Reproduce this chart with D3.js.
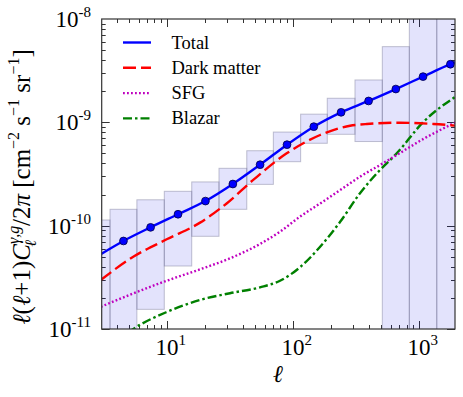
<!DOCTYPE html>
<html>
<head>
<meta charset="utf-8">
<script src="https://cdn.jsdelivr.net/npm/d3@7"></script>
<style>
  body { margin: 0; background: #fff; }
  text { fill: #000; }
</style>
</head>
<body>
<div id="chart"></div>
<script>
// Binned measurement (boxes + points)
var binEdges  = [2.15, 3.55, 5.8, 9.57, 15.8, 26, 43.2, 70.2, 115.6, 188, 312, 514, 842, 1390, 2290];
var binCentre = [2.76, 4.54, 7.45, 12.3, 20.3, 33.5, 55.1, 90.1, 147, 242, 400, 658, 1082, 1784];
var boxLow    = [1e-12, 1e-12, 1.55e-11, 4.07e-11, 7.89e-11, 1.44e-10, 2.51e-10, 4.16e-10, 6.27e-10, 7.66e-10, 6.52e-10, 1e-12, 1e-12, 1e-12];
var boxHigh   = [1.135e-10, 1.44e-10, 1.78e-10, 2.15e-10, 2.65e-10, 3.59e-10, 5.31e-10, 8.05e-10, 1.20e-9, 1.71e-9, 2.57e-9, 5.40e-9, 1e-7, 1e-7];
var binTotal  = [4.9e-11, 7.11e-11, 9.63e-11, 1.29e-10, 1.73e-10, 2.53e-10, 3.89e-10, 6.08e-10, 9.08e-10, 1.25e-9, 1.61e-9, 2.10e-9, 2.77e-9, 3.65e-9];

// Model curves
var totalEll = [3, 4.54, 7.45, 12.3, 20.3, 33.5, 55.1, 90.1, 147, 242, 400, 658, 1082, 1784, 2000];
var totalVal = [5.3e-11, 7.11e-11, 9.63e-11, 1.29e-10, 1.73e-10, 2.53e-10, 3.89e-10, 6.08e-10, 9.08e-10, 1.25e-9, 1.61e-9, 2.10e-9, 2.77e-9, 3.65e-9, 3.86e-9];

var dmEll = [3, 5.43, 10, 18.4, 29.9, 48.6, 89.6, 165, 285, 387, 711, 1306, 2000];
var dmVal = [2.98e-11, 5.0e-11, 7.38e-11, 1.07e-10, 1.64e-10, 2.77e-10, 5.01e-10, 7.54e-10, 9.27e-10, 9.64e-10, 9.91e-10, 9.64e-10, 9.27e-10];

var sfgEll = [3, 5.43, 10, 18.4, 31.8, 55, 79.3, 114, 165, 238, 342, 493, 669, 1122, 2000];
var sfgVal = [1.64e-11, 2.21e-11, 2.93e-11, 3.78e-11, 4.83e-11, 6.65e-11, 8.75e-11, 1.22e-10, 1.64e-10, 2.21e-10, 2.98e-10, 3.86e-10, 4.83e-10, 7.05e-10, 1.01e-9];

var blzEll = [3, 5.27, 10, 18.4, 31.8, 55, 79.3, 114, 165, 238, 342, 493, 669, 1089, 2000];
var blzVal = [5.6e-12, 9.78e-12, 1.46e-11, 1.91e-11, 2.22e-11, 2.53e-11, 2.93e-11, 3.95e-11, 6.25e-11, 1.09e-10, 2.06e-10, 3.46e-10, 5.01e-10, 1.01e-9, 1.80e-9];

var legendNames = ["Total", "Dark matter", "SFG", "Blazar"];
var yTicks = [1e-11, 1e-10, 1e-9, 1e-8];
var xTicks = [10, 100, 1000];

var width = 463, height = 397;
var pLeft = 101.7, pRight = 455, pTop = 19, pBottom = 329;

var svg = d3.select("#chart").append("svg")
  .attr("width", width)
  .attr("height", height);

var x = d3.scaleLog().domain([3.05, 1940]).range([pLeft, pRight]);
var y = d3.scaleLog().domain([1e-11, 1e-8]).range([pBottom, pTop]);

svg.append("clipPath").attr("id", "plot-clip")
  .append("rect")
  .attr("x", pLeft).attr("y", pTop)
  .attr("width", pRight - pLeft).attr("height", pBottom - pTop);

// minor + major ticks, all four sides, pointing inward
var tickCol = "#333";
var ticks = svg.append("g").attr("stroke", tickCol).attr("stroke-width", 1);
var ymin = [];
for (var e = -11; e < -8; e++) for (var m = 1; m < 10; m++) ymin.push(m * Math.pow(10, e));
ymin.forEach(function(v) {
  var len = (Math.abs(Math.log10(v) - Math.round(Math.log10(v))) < 1e-9) ? 8 : 4;
  var yy = Math.round(y(v)) + 0.5;
  ticks.append("line").attr("x1", pLeft).attr("x2", pLeft + len).attr("y1", yy).attr("y2", yy);
  ticks.append("line").attr("x1", pRight).attr("x2", pRight - len).attr("y1", yy).attr("y2", yy);
});
var xmin = [];
for (var e2 = 0; e2 < 4; e2++) for (var m2 = 1; m2 < 10; m2++) {
  var v2 = m2 * Math.pow(10, e2);
  if (v2 >= 3.05 && v2 <= 1940) xmin.push(v2);
}
xmin.forEach(function(v) {
  var len = (Math.abs(Math.log10(v) - Math.round(Math.log10(v))) < 1e-9) ? 8 : 4;
  var xx = Math.round(x(v)) + 0.5;
  ticks.append("line").attr("x1", xx).attr("x2", xx).attr("y1", pBottom).attr("y2", pBottom - len);
  ticks.append("line").attr("x1", xx).attr("x2", xx).attr("y1", pTop).attr("y2", pTop + len);
});

var plot = svg.append("g").attr("clip-path", "url(#plot-clip)");

// bins
plot.selectAll(".bin")
  .data(binCentre)
  .enter()
  .append("rect")
  .attr("class", "bin")
  .attr("x", function(d, i) { return x(binEdges[i]); })
  .attr("width", function(d, i) { return x(binEdges[i + 1]) - x(binEdges[i]); })
  .attr("y", function(d, i) { return y(boxHigh[i]); })
  .attr("height", function(d, i) { return y(boxLow[i]) - y(boxHigh[i]); })
  .attr("fill", "rgba(0,0,230,0.11)")
  .attr("stroke", "rgba(120,120,150,0.45)")
  .attr("stroke-width", 1);

var line = d3.line()
  .x(function(d) { return x(d[0]); })
  .y(function(d) { return y(d[1]); })
  .curve(d3.curveMonotoneX);

function zip(a, b) { return a.map(function(v, i) { return [v, b[i]]; }); }

var series = [
  { name: legendNames[0], ell: totalEll, val: totalVal, color: "#0000ff", dash: null },
  { name: legendNames[1], ell: dmEll, val: dmVal, color: "#ff0000", dash: "13,5" },
  { name: legendNames[2], ell: sfgEll, val: sfgVal, color: "#bf00bf", dash: "1.8,2.2" },
  { name: legendNames[3], ell: blzEll, val: blzVal, color: "#008000", dash: "9,3,2.5,3" }
];

series.slice().reverse().forEach(function(s) {
  plot.append("path")
    .datum(zip(s.ell, s.val))
    .attr("d", line)
    .attr("fill", "none")
    .attr("stroke", s.color)
    .attr("stroke-width", 2.4)
    .attr("stroke-dasharray", s.dash);
});

plot.selectAll(".dot")
  .data(zip(binCentre, binTotal))
  .enter()
  .append("circle")
  .attr("class", "dot")
  .attr("cx", function(d) { return x(d[0]); })
  .attr("cy", function(d) { return y(d[1]); })
  .attr("r", 3.9)
  .attr("fill", "#0000ff")
  .attr("stroke", "#000044")
  .attr("stroke-width", 0.8);

// frame
svg.append("rect")
  .attr("x", pLeft).attr("y", pTop)
  .attr("width", pRight - pLeft).attr("height", pBottom - pTop)
  .attr("fill", "none").attr("stroke", tickCol).attr("stroke-width", 1.2);

// tick labels
var tickFont = "'Liberation Serif', serif";
yTicks.forEach(function(v) {
  var t = svg.append("text")
    .attr("x", 91).attr("y", y(v) + 8)
    .attr("text-anchor", "end")
    .style("font-family", tickFont).style("font-size", "23px");
  t.append("tspan").text("10");
  t.append("tspan").attr("dy", -10).style("font-size", "15px").text("-" + (-Math.round(Math.log10(v))));
});
xTicks.forEach(function(v) {
  var t = svg.append("text")
    .attr("x", x(v) + 4).attr("y", 355)
    .attr("text-anchor", "middle")
    .style("font-family", tickFont).style("font-size", "23px");
  t.append("tspan").text("10");
  t.append("tspan").attr("dy", -10).style("font-size", "15px").text(Math.round(Math.log10(v)));
});

// axis labels
svg.append("text")
  .attr("x", 278).attr("y", 382)
  .attr("text-anchor", "middle")
  .style("font-family", tickFont).style("font-style", "italic").style("font-size", "24px")
  .text("ℓ");

var yl = svg.append("text")
  .attr("transform", "translate(30,187) rotate(-90)")
  .attr("text-anchor", "middle")
  .style("font-family", tickFont).style("font-size", "25px");
yl.append("tspan").style("font-style", "italic").text("ℓ");
yl.append("tspan").text("(");
yl.append("tspan").style("font-style", "italic").text("ℓ");
yl.append("tspan").text("+1)");
yl.append("tspan").style("font-style", "italic").text("C");
yl.append("tspan").attr("dy", -11).style("font-size", "16px").style("font-style", "italic").text("γ,g");
yl.append("tspan").attr("dx", -21).attr("dy", 17).style("font-size", "16px").style("font-style", "italic").text("ℓ");
yl.append("tspan").attr("dx", 14).attr("dy", -6).text("/2");
yl.append("tspan").style("font-style", "italic").text("π");
yl.append("tspan").text(" [cm");
yl.append("tspan").attr("dy", -11).style("font-size", "16px").text("−2");
yl.append("tspan").attr("dy", 11).text(" s");
yl.append("tspan").attr("dy", -11).style("font-size", "16px").text("−1");
yl.append("tspan").attr("dy", 11).text(" sr");
yl.append("tspan").attr("dy", -11).style("font-size", "16px").text("−1");
yl.append("tspan").attr("dy", 11).text("]");

// legend
var lg = svg.append("g");
series.forEach(function(s, i) {
  var yy = 42.5 + i * 25.3;
  lg.append("line")
    .attr("x1", 123).attr("x2", 151)
    .attr("y1", yy).attr("y2", yy)
    .attr("stroke", s.color).attr("stroke-width", 2.4)
    .attr("stroke-dasharray", s.dash);
  lg.append("text")
    .attr("x", 171.5).attr("y", yy + 6)
    .style("font-family", tickFont).style("font-size", "18.5px")
    .text(s.name);
});
</script>
</body>
</html>
